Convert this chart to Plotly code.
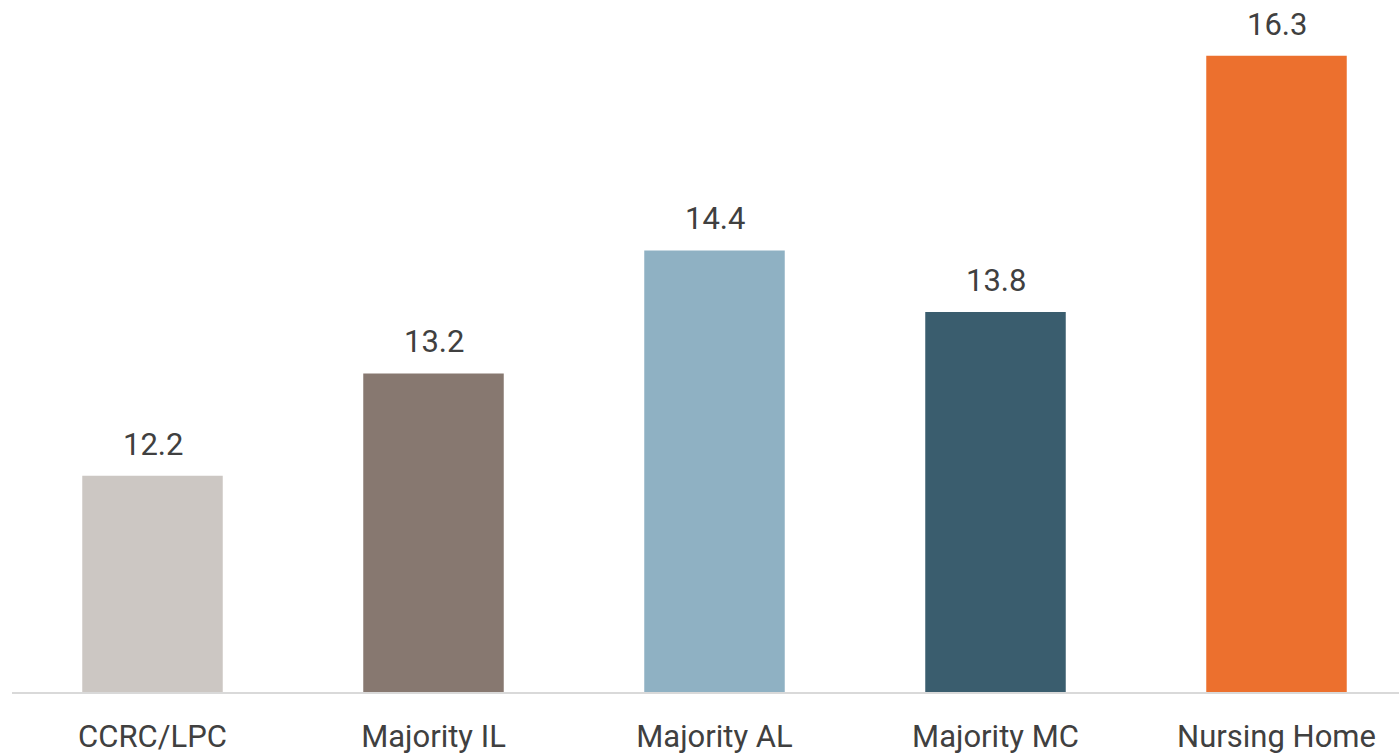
import plotly.graph_objects as go

categories = ["CCRC/LPC", "Majority IL", "Majority AL", "Majority MC", "Nursing Home"]
values = [12.2, 13.2, 14.4, 13.8, 16.3]
colors = ["#CCC7C3", "#877870", "#8FB1C3", "#3A5D6E", "#EC702E"]
labels = ["12.2", "13.2", "14.4", "13.8", "16.3"]

fig = go.Figure()
fig.add_trace(go.Bar(x=categories, y=values, marker=dict(color=colors, line=dict(width=0)),
                     hoverinfo="skip"))

for c, v, t in zip(categories, values, labels):
    fig.add_annotation(x=c, y=v, text=t, showarrow=False, yanchor="bottom", yshift=11,
                       font=dict(family="Roboto", size=31, color="#404040"))

fig.update_layout(
    width=1399, height=754,
    margin=dict(l=12, r=0, t=0, b=62, autoexpand=False),
    plot_bgcolor="white", paper_bgcolor="white",
    bargap=0.5, showlegend=False,
    xaxis=dict(range=[-0.5, -0.5 + 1387 / 281], showline=True, linecolor="#D9D9D9", linewidth=2,
               showgrid=False, ticks="", ticklabelstandoff=16, automargin=False,
               tickfont=dict(family="Roboto", size=31, color="#404040"),
               fixedrange=True),
    yaxis=dict(range=[10.09, 10.09 + 692 / 102.44], visible=False, fixedrange=True),
)
fig.write_html("out.html", config={"displayModeBar": False},
               post_script="document.body.style.margin='0';document.body.style.overflow='hidden';")
